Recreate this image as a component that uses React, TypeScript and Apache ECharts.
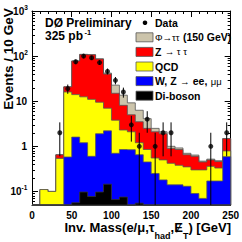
import React, { useEffect, useRef } from "react";
import * as echarts from "echarts";

const FF = "'Liberation Sans', Arial, Helvetica, sans-serif";
const YMIN = 0.05;
const YMAX = 1000;

// bin edges (GeV), 10 GeV bins
const binEdges = [0, 10, 20, 30, 40, 50, 60, 70, 80, 90, 100, 110, 120, 130, 140, 150, 160, 170, 180, 190, 200, 210, 220, 230, 240, 250];

// cumulative stack tops per bin
const dibosonTop = [0, 0, 0, 0, 0, 0.056, 0.097, 0.077, 0.097, 0.145, 0.066, 0.075, 0, 0.055, 0, 0, 0, 0, 0, 0, 0, 0, 0, 0, 0];
const wzTop = [0, 0, 0, 0, 0.58, 1.6, 1.2, 0.6, 1.9, 2.2, 0.7, 0.85, 0.84, 0.65, 0.45, 0.25, 0.18, 0.14, 0.14, 0.13, 0.09, 0.07, 0.17, 0.17, 0.59];
const qcdTop = [0, 0.11, 0.1, 0.54, 16, 14, 12.5, 11, 9.5, 7, 3.8, 2.3, 2.1, 1.2, 0.85, 0.55, 0.5, 0.42, 0.38, 0.35, 0.3, 0.3, 0.36, 0.33, 0.79];
const zttTop = [0, 0.11, 0.1, 0.65, 20.8, 78, 109, 107, 86, 40, 15, 8.1, 5, 3.5, 2.5, 2.1, 1.9, 0.9, 0.85, 0.65, 0.6, 0.45, 0.5, 0.46, 1.48];
const phiTop = [0, 0.11, 0.1, 0.65, 20.8, 78, 109, 107, 87, 42, 22.7, 13.6, 9.2, 6.3, 4.1, 2.5, 2.1, 1.0, 0.92, 0.7, 0.64, 0.47, 0.52, 0.48, 1.48];

// data points
const dataX = [35, 45, 55, 65, 75, 85, 95, 105, 115, 125, 135, 145, 155, 165, 175, 225, 245];
const dataY = [2, 19, 75, 100, 92, 72, 46, 29, 16, 3, 1, 4, 1, 2, 2, 1, 2];
const errLo = [0.6, 14.6, 66.3, 90, 82.4, 63.5, 39.2, 23.6, 12, 1.27, 0, 2, 0, 0.6, 0.6, 0, 0.6];
const errHi = [3.4, 23.4, 83.7, 110, 101.6, 80.5, 52.8, 34.4, 20, 4.73, 2, 6, 2, 3.4, 3.4, 2, 3.4];

// y tick marks (decades and sub-decades) and decade labels (base, exponent)
const majorY = [0.1, 1, 10, 100, 1000];
const majorYBase = ["10", "1", "10", "10", "10"];
const majorYExp = ["-1", "", "", "2", "3"];
const minorY = [0.06, 0.07, 0.08, 0.09, 0.2, 0.3, 0.4, 0.5, 0.6, 0.7, 0.8, 0.9, 2, 3, 4, 5, 6, 7, 8, 9, 20, 30, 40, 50, 60, 70, 80, 90, 200, 300, 400, 500, 600, 700, 800, 900];

const legendItems = [
  { fill: "#ccc4ab", text: "{s|Φ→ττ} {b|(150 GeV)}" },
  { fill: "#ff0000", text: "{b|Z} {s|→ τ τ}" },
  { fill: "#ffff00", text: "{b|QCD}" },
  { fill: "#0000ff", text: "{b|W, Z} {s|→} {b|ee,} {s|μμ}" },
  { fill: "#000000", text: "{b|Di-boson}" },
];

function layerSeries(tops: number[], fill: string, stroke: string) {
  return {
    type: "custom",
    coordinateSystem: "cartesian2d",
    xAxisIndex: 0,
    yAxisIndex: 0,
    silent: true,
    data: [[0, 1]],
    renderItem: (params: any, api: any) => {
      const cs = params.coordSys;
      const yb = cs.y + cs.height;
      const pts: number[][] = [];
      pts.push([api.coord([binEdges[0], 1])[0], yb]);
      for (let i = 0; i < tops.length; i++) {
        const v = Math.max(tops[i], YMIN);
        const p0 = api.coord([binEdges[i], v]);
        const p1 = api.coord([binEdges[i + 1], v]);
        pts.push([p0[0], Math.min(p0[1], yb)], [p1[0], Math.min(p1[1], yb)]);
      }
      pts.push([api.coord([binEdges[binEdges.length - 1], 1])[0], yb]);
      return {
        type: "polygon",
        shape: { points: pts },
        style: { fill, stroke, lineWidth: 0.8 },
      };
    },
  };
}

export default function App() {
  const ref = useRef<HTMLDivElement>(null);
  useEffect(() => {
    if (!ref.current) return;
    const chart = echarts.init(ref.current, undefined, { renderer: "svg" });
    const axisLine = { show: true, onZero: false, lineStyle: { color: "#000", width: 1 } };
    const xBase = {
      type: "value",
      min: 0,
      max: 250,
      interval: 50,
      axisLine,
      axisTick: { show: true, inside: true, length: 6, lineStyle: { color: "#000", width: 1 } },
      minorTick: { show: true, splitNumber: 5, length: 3, lineStyle: { color: "#000", width: 1 } },
      splitLine: { show: false },
      minorSplitLine: { show: false },
    };
    const yBase = {
      type: "log",
      logBase: 10,
      min: YMIN,
      max: YMAX,
      axisLine,
      axisTick: { show: false },
      axisLabel: { show: false },
      splitLine: { show: false },
    };
    const tickData = [
      ...majorY.map((v) => [0, v, 6]),
      ...minorY.map((v) => [0, v, 3]),
    ];
    chart.setOption({
      animation: false,
      backgroundColor: "#fff",
      grid: { left: 32, right: 10, top: 11, bottom: 37, containLabel: false },
      xAxis: [
        {
          ...xBase,
          position: "bottom",
          axisLabel: { show: true, color: "#000", fontFamily: FF, fontWeight: "bold", fontSize: 10, margin: 5 },
        },
        { ...xBase, position: "top", axisLabel: { show: false } },
      ],
      yAxis: [
        { ...yBase, position: "left" },
        { ...yBase, position: "right" },
      ],
      series: [
        layerSeries(phiTop, "#ccc4ab", "#555"),
        layerSeries(zttTop, "#ff0000", "#555"),
        layerSeries(qcdTop, "#ffff00", "#555"),
        layerSeries(wzTop, "#0000ff", "#555"),
        layerSeries(dibosonTop, "#000000", "#333"),
        {
          type: "custom",
          silent: true,
          xAxisIndex: 0,
          yAxisIndex: 0,
          data: dataX.map((x, i) => [x, errLo[i], errHi[i]]),
          encode: { x: 0, y: [1, 2] },
          renderItem: (params: any, api: any) => {
            const cs = params.coordSys;
            const yb = cs.y + cs.height;
            const x = api.value(0);
            const lo = Math.max(api.value(1), YMIN);
            const hi = api.value(2);
            const p0 = api.coord([x, lo]);
            const p1 = api.coord([x, hi]);
            return {
              type: "line",
              shape: { x1: p0[0], y1: Math.min(p0[1], yb), x2: p1[0], y2: p1[1] },
              style: { stroke: "#000", lineWidth: 1 },
            };
          },
          z: 5,
        },
        {
          type: "scatter",
          silent: true,
          xAxisIndex: 0,
          yAxisIndex: 0,
          data: dataX.map((x, i) => [x, dataY[i]]),
          symbol: "circle",
          symbolSize: 5,
          itemStyle: { color: "#000" },
          z: 6,
        },
        {
          // log-axis tick marks (left & right)
          type: "custom",
          silent: true,
          xAxisIndex: 0,
          yAxisIndex: 0,
          data: tickData,
          encode: { x: 0, y: 1 },
          z: 1,
          renderItem: (params: any, api: any) => {
            const cs = params.coordSys;
            const y = Math.round(api.coord([0, api.value(1)])[1]) + 0.5;
            const len = api.value(2);
            const xl = cs.x;
            const xr = cs.x + cs.width;
            return {
              type: "group",
              children: [
                { type: "line", shape: { x1: xl, y1: y, x2: xl + len, y2: y }, style: { stroke: "#000", lineWidth: 1 } },
                { type: "line", shape: { x1: xr - len, y1: y, x2: xr, y2: y }, style: { stroke: "#000", lineWidth: 1 } },
              ],
            };
          },
        },
      ],
    });

    // decade labels placed with the log axis' own scale
    const gridLeft = 32;
    const labelGraphics: any[] = [];
    majorY.forEach((v, i) => {
      const py = chart.convertToPixel({ yAxisIndex: 0 }, v) as number;
      const hasExp = majorYExp[i] !== "";
      const baseRight = hasExp ? gridLeft - 4 - (majorYExp[i].length > 1 ? 6.5 : 3.8) : gridLeft - 5;
      labelGraphics.push({
        type: "text",
        x: baseRight,
        y: py,
        z: 120,
        style: {
          text: majorYBase[i],
          fontFamily: FF,
          fontWeight: "bold",
          fontSize: 10,
          fill: "#000",
          textAlign: "right",
          textVerticalAlign: "middle",
        },
      });
      if (hasExp) {
        labelGraphics.push({
          type: "text",
          x: baseRight,
          y: py - 4,
          z: 120,
          style: {
            text: majorYExp[i],
            fontFamily: FF,
            fontWeight: "bold",
            fontSize: 6.5,
            fill: "#000",
            textAlign: "left",
            textVerticalAlign: "middle",
          },
        });
      }
    });

    const legendGraphics: any[] = [];
    const rowY = [37.3, 51.9, 66.5, 81.1, 95.7];
    legendItems.forEach((it, i) => {
      legendGraphics.push({
        type: "rect",
        shape: { x: 136, y: rowY[i] - 4.5, width: 17, height: 9 },
        style: { fill: it.fill, stroke: "#555", lineWidth: 0.8 },
        z: 100,
      });
      legendGraphics.push({
        type: "text",
        x: 155,
        y: rowY[i],
        z: 100,
        style: {
          text: it.text,
          textVerticalAlign: "middle",
          textAlign: "left",
          rich: {
            b: { fontFamily: FF, fontWeight: "bold", fontSize: 10.5, fill: "#000" },
            s: { fontFamily: FF, fontWeight: "normal", fontSize: 9.5, fill: "#000" },
          },
        },
      });
    });

    chart.setOption({
      graphic: [
        {
          type: "text",
          x: 8.5,
          y: 59,
          z: 110,
          rotation: Math.PI / 2,
          style: {
            text: "Events / 10 GeV",
            fontFamily: FF,
            fontWeight: "bold",
            fontSize: 13.5,
            fill: "#000",
            textAlign: "center",
            textVerticalAlign: "middle",
          },
        },
        ...labelGraphics,
        {
          type: "text",
          x: 231,
          y: 220.5,
          z: 110,
          style: {
            text: "{m|Inv. Mass(e/μ,τ}{sub|had}{m|,Ɇ}{sub|T}{m|) [GeV]}",
            textAlign: "right",
            textVerticalAlign: "top",
            rich: {
              m: { fontFamily: FF, fontWeight: "bold", fontSize: 13, fill: "#000", lineHeight: 20, verticalAlign: "top" },
              sub: { fontFamily: FF, fontWeight: "bold", fontSize: 9, fill: "#000", lineHeight: 10, verticalAlign: "bottom" },
            },
          },
        },
        {
          type: "text",
          x: 45,
          y: 22.5,
          z: 100,
          style: {
            text: "DØ Preliminary",
            fontFamily: FF,
            fontWeight: "bold",
            fontSize: 12,
            fill: "#000",
            textAlign: "left",
            textVerticalAlign: "middle",
          },
        },
        {
          type: "text",
          x: 45,
          y: 35.5,
          z: 100,
          style: {
            text: "325 pb",
            fontFamily: FF,
            fontWeight: "bold",
            fontSize: 12,
            fill: "#000",
            textAlign: "left",
            textVerticalAlign: "middle",
          },
        },
        {
          type: "text",
          x: 84.5,
          y: 32,
          z: 100,
          style: {
            text: "-1",
            fontFamily: FF,
            fontWeight: "bold",
            fontSize: 7.5,
            fill: "#000",
            textAlign: "left",
            textVerticalAlign: "middle",
          },
        },
        {
          type: "circle",
          shape: { cx: 145, cy: 22.7, r: 2.3 },
          style: { fill: "#000" },
          z: 100,
        },
        {
          type: "text",
          x: 155,
          y: 22.7,
          z: 100,
          style: {
            text: "Data",
            fontFamily: FF,
            fontWeight: "bold",
            fontSize: 10.5,
            fill: "#000",
            textAlign: "left",
            textVerticalAlign: "middle",
          },
        },
        ...legendGraphics,
      ],
    });
    return () => chart.dispose();
  }, []);
  return (
    <div
      ref={ref}
      style={{ position: "fixed", left: 0, top: 0, width: 242, height: 242, background: "#fff" }}
    />
  );
}
